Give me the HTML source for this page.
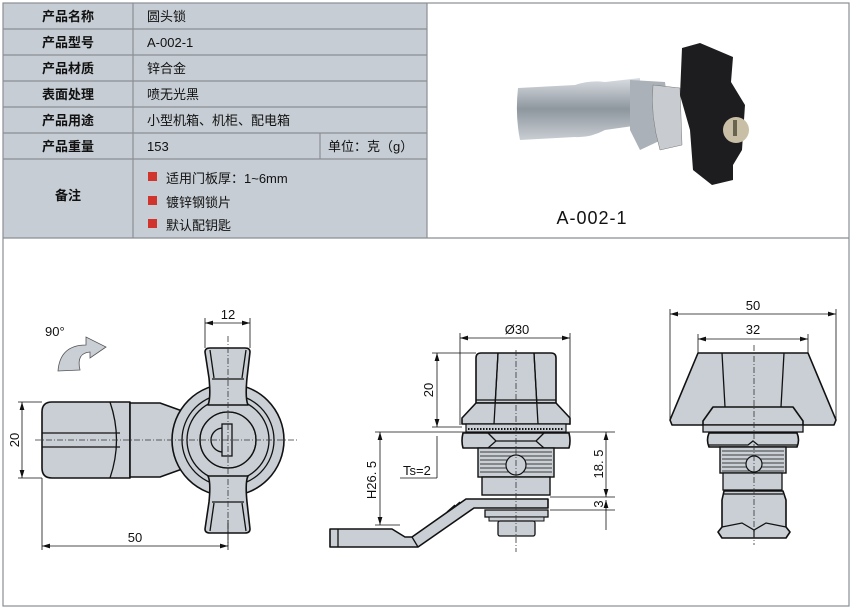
<!DOCTYPE html>
<html><head><meta charset="utf-8"><style>
body{margin:0;background:#fff;}
svg{display:block;font-family:"Liberation Sans","Noto Sans CJK SC",sans-serif;}
.t{font-size:13px;fill:#111;}
.tb{font-size:13px;fill:#111;font-weight:bold;}
.p{fill:#c9cfd4;stroke:#111;stroke-width:1.6;stroke-linejoin:round;}
.l{fill:none;stroke:#111;stroke-width:1.3;}
.d{fill:none;stroke:#111;stroke-width:0.8;}
.c{fill:none;stroke:#333;stroke-width:0.8;stroke-dasharray:6 2 1 2;}
.dt{font-size:13px;fill:#111;}
</style></head><body>
<svg width="852" height="609" viewBox="0 0 852 609" xmlns="http://www.w3.org/2000/svg">
<defs>
<marker id="a" viewBox="0 0 10 6" refX="10" refY="3" markerWidth="10" markerHeight="6" orient="auto-start-reverse"><path d="M0,0L10,3L0,6z" fill="#111"/></marker>
</defs>
<!-- table -->
<rect x="3" y="3" width="424" height="235" fill="#c6cdd4"/>
<g stroke="#8a8f94" stroke-width="1.2" fill="none">
<rect x="3" y="3" width="846" height="603"/>
<line x1="427" y1="3" x2="427" y2="238"/>
<line x1="3" y1="238" x2="849" y2="238"/>
<line x1="133" y1="3" x2="133" y2="238"/>
<line x1="3" y1="29" x2="427" y2="29"/><line x1="3" y1="55" x2="427" y2="55"/>
<line x1="3" y1="81" x2="427" y2="81"/><line x1="3" y1="107" x2="427" y2="107"/>
<line x1="3" y1="133" x2="427" y2="133"/><line x1="3" y1="159" x2="427" y2="159"/>
<line x1="320" y1="133" x2="320" y2="159"/>
</g>
<g class="tb" text-anchor="middle">
<text x="68" y="21">产品名称</text><text x="68" y="47">产品型号</text><text x="68" y="73">产品材质</text>
<text x="68" y="99">表面处理</text><text x="68" y="125">产品用途</text><text x="68" y="151">产品重量</text>
<text x="68" y="200">备注</text>
</g>
<g class="t">
<text x="147" y="21">圆头锁</text><text x="147" y="47">A-002-1</text><text x="147" y="73">锌合金</text>
<text x="147" y="99">喷无光黑</text><text x="147" y="125">小型机箱、机柜、配电箱</text><text x="147" y="151">153</text>
<text x="328" y="151">单位：克（g）</text>
<text x="166" y="183">适用门板厚：1~6mm</text><text x="166" y="207">镀锌钢锁片</text><text x="166" y="230">默认配钥匙</text>
</g>
<rect x="148" y="172" width="9" height="9" fill="#d0342c"/><rect x="148" y="196" width="9" height="9" fill="#d0342c"/><rect x="148" y="219" width="9" height="9" fill="#d0342c"/>
<!-- photo -->
<defs><linearGradient id="ch" x1="0" y1="0" x2="0" y2="1"><stop offset="0" stop-color="#d8dde2"/><stop offset="0.5" stop-color="#8e969e"/><stop offset="1" stop-color="#c9ced3"/></linearGradient></defs>
<path d="M518,88 L575,85 Q590,80 605,82 L640,78 L640,125 L605,130 Q590,138 575,137 L520,140 Q515,115 518,88z" fill="url(#ch)"/>
<path d="M630,80 L665,82 L672,135 L640,150 L630,130z" fill="#aab1b8"/>
<path d="M653,85 L680,88 L682,145 L660,150 Q650,115 653,85z" fill="#c8ccd0" stroke="#777" stroke-width="0.5"/>
<path d="M682,48 L700,43 L733,57 L731,82 L745,105 L742,150 L733,165 L733,180 L712,185 L693,170 L690,130 L680,95z" fill="#1d1d1f"/>
<circle cx="736" cy="130" r="13" fill="#c9bfa6"/><rect x="733" y="120" width="4" height="16" fill="#6a6350"/>
<text x="592" y="224" font-size="18" fill="#111" text-anchor="middle" letter-spacing="1">A-002-1</text>

<!-- left view -->
<text x="45" y="336" class="dt">90°</text>
<path d="M58,371 Q60,345 86,345 L86,337 L106,347 L90,358 L90,352 Q76,353 80,370z" fill="#c9cfd4" stroke="#555" stroke-width="0.8"/>
<path class="p" d="M52,402 L130,402 L130,478 L52,478 Q42,478 42,468 L42,412 Q42,402 52,402z"/>
<path class="l" d="M110,402 Q123,440 110,478 M42,433 L120,433 M42,447 L120,447"/>
<path class="p" d="M130,403 L160,403 L185,412 L185,468 L160,477 L130,477z"/>
<circle class="p" cx="228" cy="440" r="56"/>
<circle class="l" cx="228" cy="440" r="46"/>
<circle class="l" cx="228" cy="440" r="41"/>
<circle class="l" cx="228" cy="440" r="28"/>
<path class="p" d="M205,352 Q205,348 210,348 L245,348 Q250,348 250,352 L247,378 Q245,398 248,405 L208,405 Q211,398 209,378z"/>
<path class="l" d="M212,379 L244,379 M210,350 L214,378 M246,350 L242,378"/>
<path class="p" d="M205,529 Q205,533 210,533 L245,533 Q250,533 250,529 L247,502 Q245,482 248,476 L208,476 Q211,482 209,502z"/>
<path class="l" d="M212,502 L244,502 M210,531 L214,503 M246,531 L242,503"/>
<circle class="l" cx="228" cy="440" r="28"/>
<path class="l" d="M223,428 A12,12 0 0 0 223,452"/>
<rect x="222" y="424" width="10" height="32" fill="#c9cfd4" stroke="#111" stroke-width="1.3"/>
<line class="c" x1="35" y1="440" x2="297" y2="440"/>
<line class="c" x1="228" y1="336" x2="228" y2="546"/>
<path class="d" d="M205,348 L205,318 M250,348 L250,318 M18,402 L42,402 M18,478 L42,478 M42,478 L42,550 M228,520 L228,550"/>
<line class="d" x1="205" y1="323" x2="250" y2="323" marker-start="url(#a)" marker-end="url(#a)"/>
<line class="d" x1="22" y1="402" x2="22" y2="478" marker-start="url(#a)" marker-end="url(#a)"/>
<line class="d" x1="42" y1="546" x2="228" y2="546" marker-start="url(#a)" marker-end="url(#a)"/>
<text x="228" y="319" class="dt" text-anchor="middle">12</text>
<text x="135" y="542" class="dt" text-anchor="middle">50</text>
<text transform="translate(19,440) rotate(-90)" class="dt" text-anchor="middle">20</text>

<!-- middle view -->
<path class="p" d="M476,358 Q476,353 481,353 L551,353 Q556,353 556,358 L556,403 L476,403z"/>
<path class="l" d="M498,353 L494,425 M534,353 L538,425 M476,400 L556,400"/>
<path class="p" d="M476,403 L556,403 L570,418 L570,424 L462,424 L462,418z"/>
<path class="l" d="M498,353 L494,424 M534,353 L538,424"/>
<rect x="466" y="424" width="100" height="8" fill="#c9cfd4" stroke="#111" stroke-width="1.2"/>
<line x1="468" y1="429" x2="564" y2="429" stroke="#111" stroke-width="2" stroke-dasharray="1.5 1.5"/>
<path class="p" d="M463,433 L569,433 Q571,441 569,448 L463,448 Q461,441 463,433z"/>
<path class="l" d="M488,433 L496,441 L488,448 M544,433 L536,441 L544,448 M496,441 L536,441"/>
<rect x="478" y="448" width="76" height="29" fill="#c9cfd4" stroke="#111" stroke-width="1.4"/>
<path d="M480,452H552M480,456H552M480,460H552M480,464H552M480,468H552M480,472H552" stroke="#111" stroke-width="0.8"/>
<circle cx="516" cy="465" r="10" fill="#c9cfd4" stroke="#111" stroke-width="1.2"/>
<rect x="482" y="477" width="68" height="18" fill="#c9cfd4" stroke="#111" stroke-width="1.4"/>
<path class="p" d="M330,529 L392,529 L405,537 L412,537 L466,499 L548,499 L548,508 L474,508 L418,547 L330,547z"/>
<path class="l" d="M338,529 L338,547 M412,537 L418,547 M452,509 L460,502 M447,512 L455,505"/>
<rect x="485" y="510" width="63" height="7" fill="#c9cfd4" stroke="#111" stroke-width="1.3"/>
<rect x="489" y="517" width="55" height="4" fill="#c9cfd4" stroke="#111" stroke-width="1"/>
<rect x="498" y="521" width="37" height="15" rx="2" fill="#c9cfd4" stroke="#111" stroke-width="1.3"/>
<line class="c" x1="516" y1="350" x2="516" y2="552"/>
<path class="d" d="M460,425 L460,333 M570,425 L570,333 M432,353 L476,353 M432,427 L462,427 M375,432 L615,432 M375,525 L400,525 M550,497 L615,497 M550,510 L615,510 M437,436 L437,478 M400,478 L437,478"/>
<line class="d" x1="460" y1="338" x2="570" y2="338" marker-start="url(#a)" marker-end="url(#a)"/>
<line class="d" x1="437" y1="353" x2="437" y2="427" marker-start="url(#a)" marker-end="url(#a)"/>
<line class="d" x1="380" y1="432" x2="380" y2="525" marker-start="url(#a)" marker-end="url(#a)"/>
<line class="d" x1="606" y1="432" x2="606" y2="497" marker-start="url(#a)" marker-end="url(#a)"/>
<line class="d" x1="606" y1="500" x2="606" y2="530" marker-start="url(#a)"/>
<text x="517" y="334" class="dt" text-anchor="middle">Ø30</text>
<text transform="translate(433,390) rotate(-90)" class="dt" text-anchor="middle">20</text>
<text transform="translate(376,480) rotate(-90)" class="dt" text-anchor="middle">H26. 5</text>
<text transform="translate(603,464) rotate(-90)" class="dt" text-anchor="middle">18. 5</text>
<text transform="translate(603,504) rotate(-90)" class="dt" text-anchor="middle">3</text>
<text x="403" y="475" class="dt">Ts=2</text>

<!-- right view -->
<path class="p" d="M698,353 L808,353 L836,420 L834,425 L672,425 L670,420z"/>
<path class="l" d="M722,353 L725,407 M784,353 L781,407"/>
<path class="p" d="M713,407 L793,407 L803,421 L803,425 L703,425 L703,421z"/>
<rect x="703" y="425" width="100" height="7" fill="#c9cfd4" stroke="#111" stroke-width="1.3"/>
<path class="p" d="M709,433 L797,433 Q800,440 797,447 L709,447 Q706,440 709,433z"/>
<path class="l" d="M709,445 L748,445 L753,441 L758,445 L797,445"/>
<rect x="720" y="447" width="66" height="26" fill="#c9cfd4" stroke="#111" stroke-width="1.4"/>
<path d="M722,451H784M722,455H784M722,459H784M722,463H784M722,467H784M722,471H784" stroke="#111" stroke-width="0.8"/>
<circle cx="754" cy="464" r="8" fill="#c9cfd4" stroke="#111" stroke-width="1.2"/>
<rect x="723" y="473" width="59" height="17" fill="#c9cfd4" stroke="#111" stroke-width="1.3"/>
<path class="p" d="M724,491 L783,491 L786,500 L786,527 L790,532 L786,538 L722,538 L718,532 L722,527 L722,500z"/>
<path class="l" d="M724,494 L783,494 M722,527 L742,523 L754,530 L766,523 L786,527 M754,530 L754,538"/>
<line class="c" x1="754" y1="345" x2="754" y2="545"/>
<path class="d" d="M670,420 L670,309 M836,420 L836,309 M698,353 L698,334 M808,353 L808,334"/>
<line class="d" x1="670" y1="314" x2="836" y2="314" marker-start="url(#a)" marker-end="url(#a)"/>
<line class="d" x1="698" y1="339" x2="808" y2="339" marker-start="url(#a)" marker-end="url(#a)"/>
<text x="753" y="310" class="dt" text-anchor="middle">50</text>
<text x="753" y="334" class="dt" text-anchor="middle">32</text>
</svg>
</body></html>
